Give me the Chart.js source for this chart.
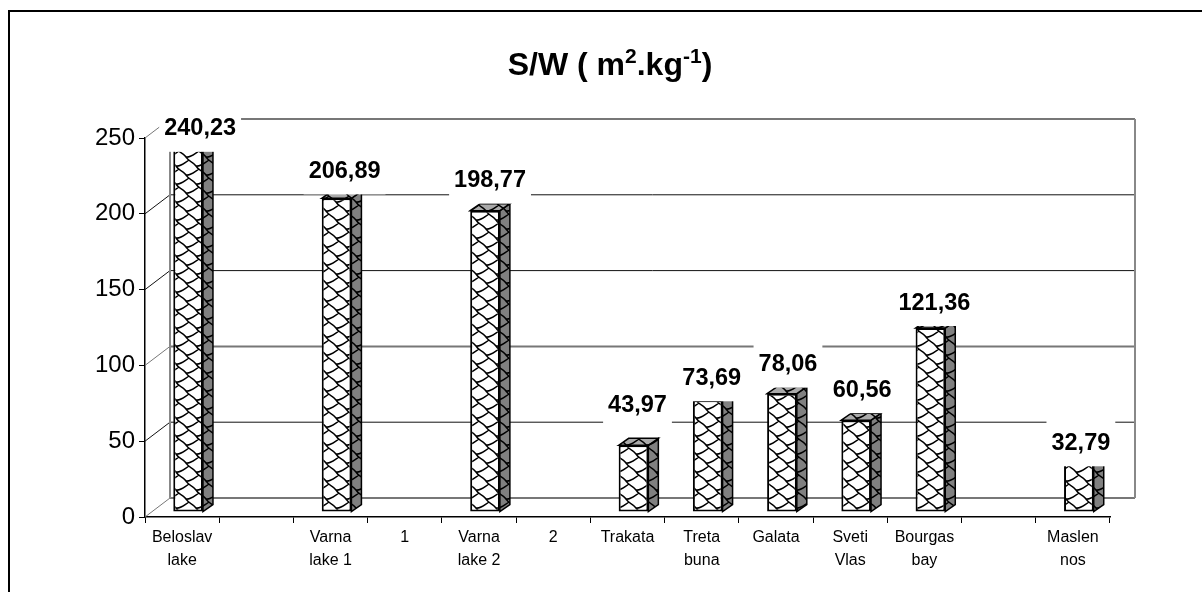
<!DOCTYPE html>
<html>
<head>
<meta charset="utf-8">
<style>
html, body { margin: 0; padding: 0; background: #fff; }
#wrap { position: absolute; left: 0; top: 0; width: 1202px; height: 592px; }
</style>
<script src="https://cdn.jsdelivr.net/npm/chart.js@4/dist/chart.umd.min.js"></script>
</head>
<body>
<div id="wrap"><canvas id="chart" width="1202" height="592"></canvas></div>
<script>
// categories, with the blank slots and the stray 1 / 2 of the original sheet
const categories = [['Beloslav', 'lake'], '', ['Varna', 'lake 1'], '1', ['Varna', 'lake 2'], '2',
    'Trakata', ['Treta', 'buna'], 'Galata', ['Sveti', 'Vlas'], ['Bourgas', 'bay'], '', ['Maslen', 'nos']];
const values = [240.23, null, 206.89, null, 198.77, null, 43.97, 73.69, 78.06, 60.56, 121.36, null, 32.79];
const valueLabels = ['240,23', '', '206,89', '', '198,77', '', '43,97', '73,69', '78,06', '60,56', '121,36', '', '32,79'];
const yTicks = [0, 50, 100, 150, 200, 250];
const titleParts = [['S/W ( m', 0], ['2', 1], ['.kg', 0], ['-1', 1], [')', 0]];

// hand placed labels in the original: shift from the bar front top
const labelShift = [[12, -19], null, [8, -27], null, [5, -30], null, [4, -40], [4, -22], [6, -29], [6, -30], [4, -25], null, [2, -19]];

const FONT = '"Liberation Sans", Arial, sans-serif';
const wall = { dx: 25, dy: -19 };   // back wall offset from the axes
const bar = { dx: 6, dy: -5 };      // bars sit inside the floor
const side = { dx: 10, dy: -7 };    // bar depth

function shingle(bg) {
    const c = document.createElement('canvas');
    c.width = 20; c.height = 18;
    const g = c.getContext('2d');
    g.fillStyle = bg;
    g.fillRect(0, 0, 20, 18);
    g.strokeStyle = '#000';
    g.lineWidth = 1.5;
    g.beginPath();
    for (let j = -2; j <= 2; j++) {
        for (let i = -2; i <= 1; i++) {
            const x = 20 * i + (j % 2 ? 10 : 0), y = 9 * j;
            g.moveTo(x, y);
            g.bezierCurveTo(x + 3, y + 5, x + 6, y + 4, x + 10, y + 9);
            g.moveTo(x + 10, y + 9);
            g.bezierCurveTo(x + 14, y + 10, x + 17, y + 7, x + 23, y + 3);
        }
    }
    g.stroke();
    return g.createPattern(c, 'repeat');
}

const canvas = document.getElementById('chart');
const frontFill = shingle('#fff');
const sideFill = shingle('#808080');
const topFill = shingle('#aaa');

const walls = {
    id: 'walls',
    beforeDatasetsDraw(chart) {
        const { ctx, scales: { x, y } } = chart;
        const left = x.left, right = x.right;
        ctx.save();
        yTicks.forEach(v => {
            const py = y.getPixelForValue(v);
            // the original's lines land between pixels on these three
            const soft = v === 0 || v === 100 || v === 250;
            ctx.strokeStyle = soft ? '#777' : '#111';
            ctx.lineWidth = 1;
            ctx.beginPath();
            ctx.moveTo(left, py);
            ctx.lineTo(left + wall.dx, py + wall.dy);
            ctx.stroke();
            ctx.lineWidth = soft ? 2 : 1;
            ctx.beginPath();
            ctx.moveTo(left + wall.dx, py + wall.dy);
            ctx.lineTo(right + wall.dx, py + wall.dy);
            ctx.stroke();
        });
        ctx.strokeStyle = '#888';
        ctx.lineWidth = 2;
        ctx.beginPath();
        const top = y.getPixelForValue(250) + wall.dy, bottom = y.getPixelForValue(0) + wall.dy;
        ctx.moveTo(left + wall.dx, top);
        ctx.lineTo(left + wall.dx, bottom);
        ctx.moveTo(right + wall.dx, top);
        ctx.lineTo(right + wall.dx, bottom);
        ctx.stroke();
        ctx.restore();
    },
    beforeDatasetDraw(chart) {
        const ctx = chart.ctx;
        ctx.save();
        ctx.translate(bar.dx, bar.dy);
        chart.getDatasetMeta(0).data.forEach((el, i) => {
            if (values[i] === null) return;
            const { x, y, base, width } = el.getProps(['x', 'y', 'base', 'width'], true);
            const r = x + width / 2, l = x - width / 2;
            ctx.lineWidth = 1.5;
            ctx.strokeStyle = '#000';
            ctx.fillStyle = sideFill;
            ctx.beginPath();
            ctx.moveTo(r, y);
            ctx.lineTo(r + side.dx, y + side.dy);
            ctx.lineTo(r + side.dx, base + side.dy);
            ctx.lineTo(r, base);
            ctx.closePath();
            ctx.fill();
            ctx.stroke();
            ctx.fillStyle = topFill;
            ctx.beginPath();
            ctx.moveTo(l, y);
            ctx.lineTo(l + side.dx, y + side.dy);
            ctx.lineTo(r + side.dx, y + side.dy);
            ctx.lineTo(r, y);
            ctx.closePath();
            ctx.fill();
            ctx.stroke();
        });
    },
    afterDatasetDraw(chart) {
        chart.ctx.restore();
    },
    afterDatasetsDraw(chart) {
        const ctx = chart.ctx;
        ctx.save();
        ctx.font = 'bold 23.5px ' + FONT;
        ctx.textAlign = 'center';
        ctx.textBaseline = 'middle';
        chart.getDatasetMeta(0).data.forEach((el, i) => {
            if (values[i] === null) return;
            const px = el.x + bar.dx + labelShift[i][0];
            const py = el.y + bar.dy + labelShift[i][1];
            const w = ctx.measureText(valueLabels[i]).width + 10;
            ctx.fillStyle = '#fff';
            ctx.fillRect(px - w / 2, py - 23, w, 46);
            ctx.fillStyle = '#000';
            ctx.fillText(valueLabels[i], px, py);
        });
        // title, superscripts drawn smaller and raised
        const big = 'bold 32px ' + FONT, small = 'bold 21px ' + FONT;
        let total = 0;
        titleParts.forEach(p => {
            ctx.font = p[1] ? small : big;
            total += ctx.measureText(p[0]).width;
        });
        let tx = 610 - total / 2;
        ctx.textAlign = 'left';
        ctx.textBaseline = 'alphabetic';
        titleParts.forEach(p => {
            ctx.font = p[1] ? small : big;
            ctx.fillText(p[0], tx, p[1] ? 63 : 75);
            tx += ctx.measureText(p[0]).width;
        });
        // page frame, open at the right and bottom
        ctx.fillStyle = '#000';
        ctx.fillRect(8, 10, 1194, 2);
        ctx.fillRect(8, 10, 2, 582);
        ctx.restore();
    },
};

new Chart(canvas, {
    type: 'bar',
    data: {
        labels: categories,
        datasets: [{
            data: values,
            backgroundColor: frontFill,
            borderColor: '#000',
            borderWidth: 2,
            borderSkipped: false,
            categoryPercentage: 1,
            barPercentage: 0.4,
            clip: false,
        }],
    },
    options: {
        responsive: false,
        animation: false,
        events: [],
        layout: { padding: { left: 85, right: 92, top: 138, bottom: 15 } },
        plugins: { legend: { display: false }, tooltip: { enabled: false } },
        scales: {
            x: {
                offset: true,
                afterFit: s => { s.height = 60; },
                grid: { offset: true, drawOnChartArea: false, color: '#000', tickLength: 6 },
                border: { color: '#000', width: 1.5 },
                ticks: { color: '#000', font: { family: FONT, size: 16, lineHeight: 1.44 }, maxRotation: 0, autoSkip: false, padding: 3 },
            },
            y: {
                min: 0,
                max: 250,
                afterFit: s => { s.width = 60; },
                afterBuildTicks: s => { s.ticks = yTicks.map(v => ({ value: v })); },
                grid: { drawOnChartArea: false, color: '#000', tickLength: 6 },
                border: { color: '#000', width: 1.5 },
                ticks: { color: '#000', font: { family: FONT, size: 24 }, padding: 4 },
            },
        },
    },
    plugins: [walls],
});
</script>
</body>
</html>
